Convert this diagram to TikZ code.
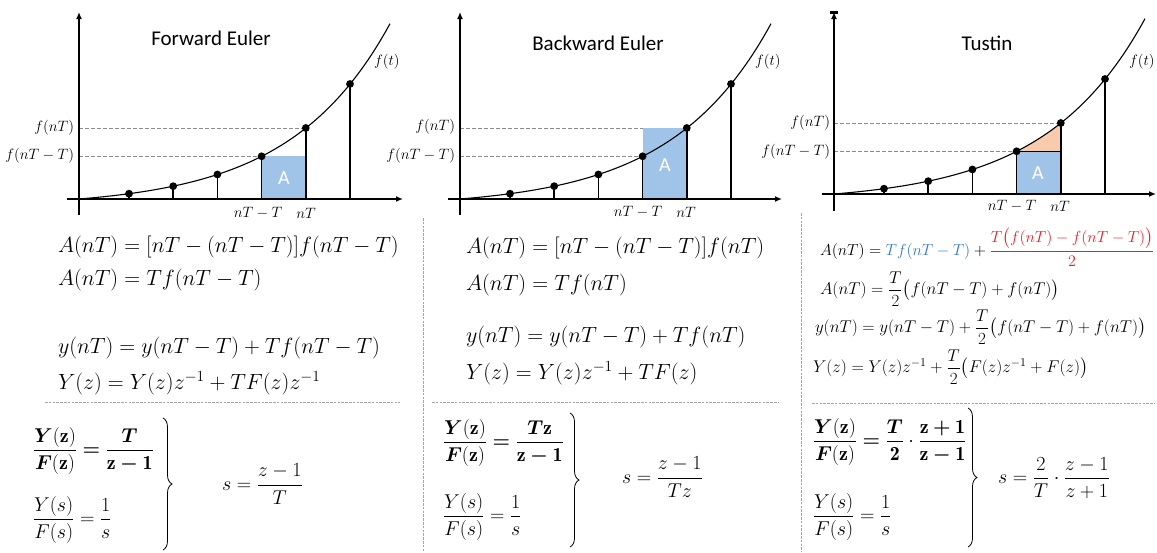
\RequirePackage{fix-cm}
\documentclass[tikz,border=0pt]{standalone}
\usepackage{amsmath}
\usepackage{bm}
\usepackage{fontspec}
\newfontfamily\calib{Carlito}
\usetikzlibrary{arrows.meta,decorations.pathreplacing}
\definecolor{areablue}{RGB}{160,196,231}
\definecolor{areaorange}{RGB}{248,203,173}
\definecolor{eqblue}{RGB}{52,120,195}
\definecolor{eqred}{RGB}{232,30,36}
\definecolor{guidegray}{RGB}{140,140,140}
\definecolor{sepgray}{RGB}{165,165,165}

\newcommand\panelguides[2]{%
  \draw[guide] ({#1},{#2-71.01}) -- ({#1+226.8},{#2-71.01});
  \draw[guide] ({#1},{#2-42.72}) -- ({#1+182.6},{#2-42.72});
}
\newcommand\panelfront[6]{%
  \draw[curveline] plot[domain=0:311,samples=120] ({#1+\x},{#2-8.2*(exp(0.01*\x)-1)});
  \foreach \t/\h in {50/5.32,94.2/12.83,138.4/24.53,182.6/42.72,226.8/71.01,271/115.04}{
    \draw[stemline] ({#1+\t},{#2}) -- ({#1+\t},{#2-\h});
    \fill ({#1+\t},{#2-\h}) circle (3.9);
  }
  \draw[xaxis] ({#3},{#2}) -- ({#4},{#2});
  \draw[yaxis] ({#1},{#6}) -- ({#1},{#5});
}
\newcommand\bz{\mathbf{z}}

\begin{document}
\begin{tikzpicture}[x=1pt,y=-1pt,
  every node/.style={inner sep=0pt,outer sep=0pt},
  guide/.style={draw=guidegray,line width=0.9pt,dash pattern=on 4pt off 2pt},
  sepline/.style={draw=sepgray,line width=0.9pt,dash pattern=on 2.5pt off 1.3pt},
  curveline/.style={line width=1.1pt},
  stemline/.style={line width=1.6pt},
  xaxis/.style={line width=1.8pt,-{Latex[length=7pt,width=6pt]}},
  yaxis/.style={line width=2pt,-{Latex[length=7pt,width=6pt]}},
  title/.style={font=\calib\fontsize{21}{25}\selectfont},
  albl/.style={font=\calib\fontsize{20}{24}\selectfont,text=white},
  mlbl/.style={font=\fontsize{15}{18}\selectfont},
  eqbig/.style={font=\fontsize{22}{26}\selectfont,anchor=west},
  eqsmall/.style={font=\fontsize{17}{20}\selectfont,anchor=west},
  eqfrac/.style={font=\fontsize{20}{24}\selectfont,anchor=west},
  bracepath/.style={line width=0.8pt,decorate,decoration={brace,amplitude=9pt}}
]
\useasboundingbox (0,0) rectangle (1157,552);
\fill[white] (0,0) rectangle (1157,552);

% ---------- Panel 1: Forward Euler ----------
\panelguides{79}{199}
\fill[areablue] (261.6,156.28) rectangle (305.8,199);
\panelfront{79}{199}{67}{403}{12}{215}
\node[title] (t1) at (211,38) {Forward Euler};
\node[mlbl,anchor=west] (ft1) at (374,62) {$f(t)$};
\node[mlbl,anchor=east] (fn1) at (74,128) {$f(nT)$};
\node[mlbl,anchor=east] (fm1) at (74,156) {$f(nT-T)$};
\node[mlbl] (xm1) at (258,213) {$nT-T$};
\node[mlbl] (xn1) at (306,213) {$nT$};
\node[albl] (a1) at (284,178) {A};

% ---------- Panel 2: Backward Euler ----------
\panelguides{460}{199}
\fill[areablue] (642.6,127.99) rectangle (686.8,199);
\panelfront{460}{199}{448}{782}{12}{215}
\node[title] (t2) at (598,43) {Backward Euler};
\node[mlbl,anchor=west] (ft2) at (755,62) {$f(t)$};
\node[mlbl,anchor=east] (fn2) at (455,127) {$f(nT)$};
\node[mlbl,anchor=east] (fm2) at (455,156) {$f(nT-T)$};
\node[mlbl] (xm2) at (638,212) {$nT-T$};
\node[mlbl] (xn2) at (686,212) {$nT$};
\node[albl] (a2) at (665,165) {A};

% ---------- Panel 3: Tustin ----------
\panelguides{834}{194}
\fill[areablue] (1016.6,151.28) rectangle (1060.8,194);
\fill[areaorange] plot[domain=182.6:226.8,samples=30] ({834+\x},{194-8.2*(exp(0.01*\x)-1)}) -- (1060.8,151.28) -- cycle;
\draw[line width=0.7pt] (1016.6,151.28) -- (1060.8,151.28);
\panelfront{834}{194}{822}{1156}{12}{211}
\fill (830,10.5) rectangle (838,13.5);
\node[title] (t3) at (987,43) {Tustin};
\node[mlbl,anchor=west] (ft3) at (1129,62) {$f(t)$};
\node[mlbl,anchor=east] (fn3) at (830,123) {$f(nT)$};
\node[mlbl,anchor=east] (fm3) at (830,152) {$f(nT-T)$};
\node[mlbl] (xm3) at (1012,206) {$nT-T$};
\node[mlbl] (xn3) at (1060,206) {$nT$};
\node[albl] (a3) at (1038,173) {A};

% ---------- separators ----------
\coordinate (v1t) at (423,218); \coordinate (v1b) at (423,552);
\coordinate (v2t) at (801,213); \coordinate (v2b) at (801,552);
\coordinate (h1l) at (45,402);  \coordinate (h1r) at (400,402);
\coordinate (h2l) at (432,402); \coordinate (h2r) at (778,402);
\coordinate (h3l) at (812,403); \coordinate (h3r) at (1155,403);
\draw[sepline] (v1t) -- (v1b);
\draw[sepline] (v2t) -- (v2b);
\draw[sepline] (h1l) -- (h1r);
\draw[sepline] (h2l) -- (h2r);
\draw[sepline] (h3l) -- (h3r);

% ---------- Panel 1 equations ----------
\node[eqbig] (e11) at (58,247) {$A(nT) = [nT-(nT-T)]f(nT-T)$};
\node[eqbig] (e12) at (58,280) {$A(nT) = Tf(nT-T)$};
\node[eqbig] (e13) at (58,348) {$y(nT) = y(nT-T) + Tf(nT-T)$};
\node[eqbig] (e14) at (58,383) {$Y(z) = Y(z)z^{-1} + TF(z)z^{-1}$};

% ---------- Panel 2 equations ----------
\node[eqbig] (e21) at (466,248) {$A(nT) = [nT-(nT-T)]f(nT)$};
\node[eqbig] (e22) at (466,285) {$A(nT) = Tf(nT)$};
\node[eqbig] (e23) at (466,337) {$y(nT) = y(nT-T) + Tf(nT)$};
\node[eqbig] (e24) at (466,373) {$Y(z) = Y(z)z^{-1} + TF(z)$};

% ---------- Panel 3 equations ----------
\node[eqsmall,font=\fontsize{16}{19}\selectfont] (e31) at (820,247) {$A(nT) = \textcolor{eqblue}{Tf(nT-T)} + \textcolor{eqred}{\dfrac{T\bigl(f(nT)-f(nT-T)\bigr)}{2}}$};
\node[eqsmall] (e32) at (820,289) {$A(nT) = \dfrac{T}{2}\bigl(f(nT-T)+f(nT)\bigr)$};
\node[eqsmall] (e33) at (815,327) {$y(nT) = y(nT-T) + \dfrac{T}{2}\bigl(f(nT-T)+f(nT)\bigr)$};
\node[eqsmall] (e34) at (813,367) {$Y(z) = Y(z)z^{-1} + \dfrac{T}{2}\bigl(F(z)z^{-1}+F(z)\bigr)$};

% ---------- bottom: transfer functions ----------
\node[eqfrac] (b11) at (33,451) {$\dfrac{\bm{Y}\mathbf{(z)}}{\bm{F}\mathbf{(z)}} \bm{=} \dfrac{\bm{T}}{\bz\bm{-}\mathbf{1}}$};
\node[eqfrac] (b12) at (33,520) {$\dfrac{Y(s)}{F(s)} = \dfrac{1}{s}$};
\coordinate (br1t) at (163,418); \coordinate (br1b) at (163,550);
\draw[bracepath] (br1t) -- (br1b);
\node[eqfrac] (s1) at (222,484) {$s = \dfrac{z-1}{T}$};

\node[eqfrac] (b21) at (443,443) {$\dfrac{\bm{Y}\mathbf{(z)}}{\bm{F}\mathbf{(z)}} \bm{=} \dfrac{\bm{T}\bz}{\bz\bm{-}\mathbf{1}}$};
\node[eqfrac] (b22) at (443,517) {$\dfrac{Y(s)}{F(s)} = \dfrac{1}{s}$};
\coordinate (br2t) at (570,413); \coordinate (br2b) at (570,547);
\draw[bracepath] (br2t) -- (br2b);
\node[eqfrac] (s2) at (622,477) {$s = \dfrac{z-1}{Tz}$};

\node[eqfrac] (b31) at (813,442) {$\dfrac{\bm{Y}\mathbf{(z)}}{\bm{F}\mathbf{(z)}} \bm{=} \dfrac{\bm{T}}{\mathbf{2}}\cdot\dfrac{\bz\bm{+}\mathbf{1}}{\bz\bm{-}\mathbf{1}}$};
\node[eqfrac] (b32) at (813,517) {$\dfrac{Y(s)}{F(s)} = \dfrac{1}{s}$};
\coordinate (br3t) at (968,408); \coordinate (br3b) at (968,547);
\draw[bracepath] (br3t) -- (br3b);
\node[eqfrac] (s3) at (998,478) {$s = \dfrac{2}{T}\cdot\dfrac{z-1}{z+1}$};
\end{tikzpicture}
\end{document}
